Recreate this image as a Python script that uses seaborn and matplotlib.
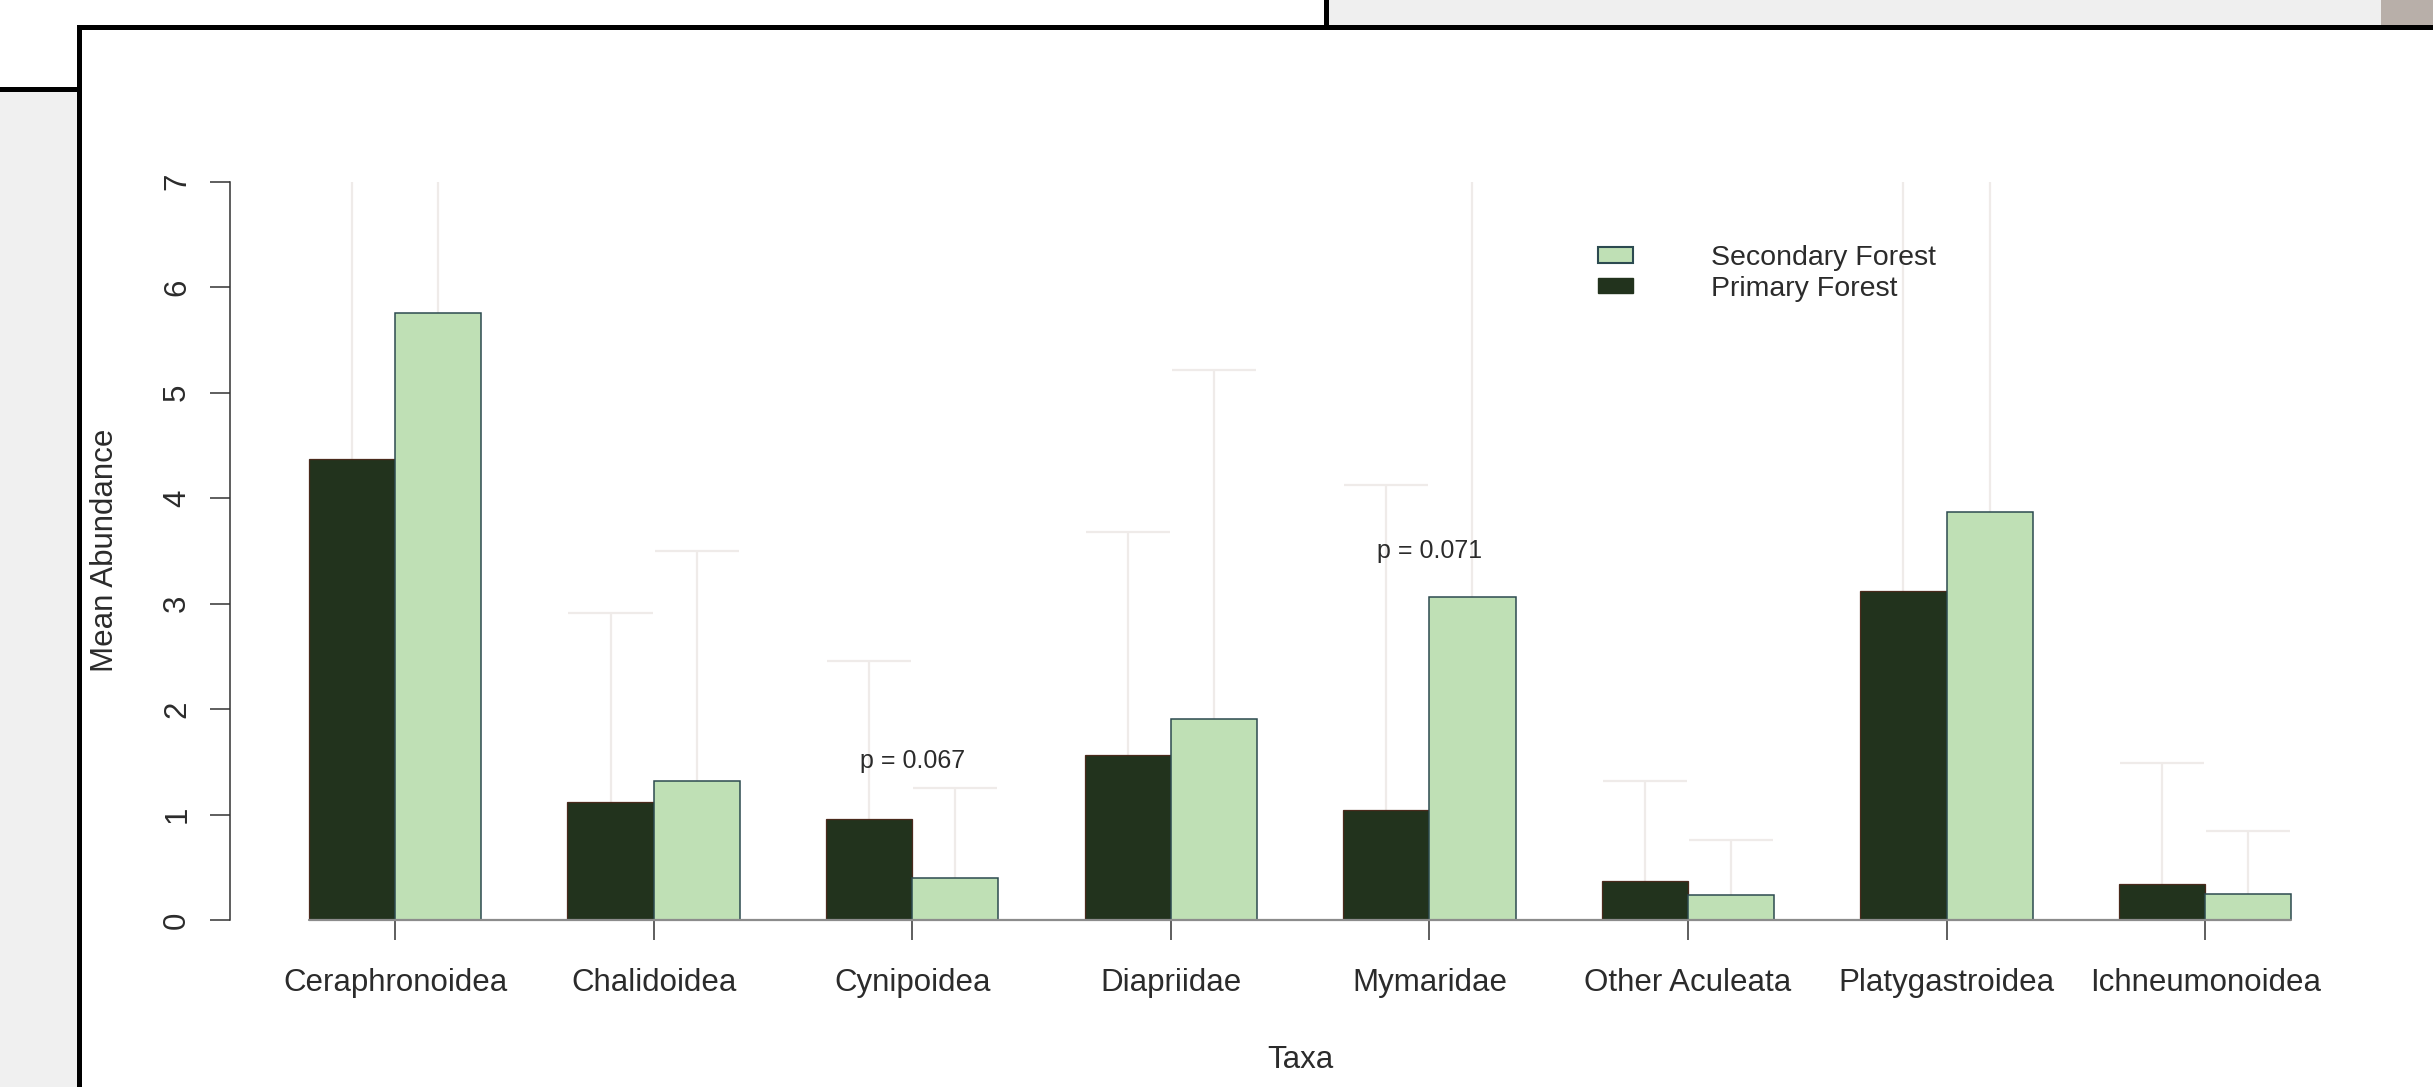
import numpy as np
import pandas as pd
import matplotlib
matplotlib.use("Agg")
import matplotlib.pyplot as plt
from matplotlib.patches import Patch, Rectangle
import seaborn as sns

taxa = ["Ceraphronoidea", "Chalidoidea", "Cynipoidea", "Diapriidae",
        "Mymaridae", "Other Aculeata", "Platygastroidea", "Ichneumonoidea"]
primary_mean = [4.37, 1.12, 0.96, 1.56, 1.04, 0.37, 3.12, 0.34]
secondary_mean = [5.75, 1.32, 0.40, 1.91, 3.06, 0.24, 3.87, 0.25]
# upper end of the error bars (mean + se), values above 7 are cut off in the plot
primary_upper = [7.6, 2.91, 2.46, 3.68, 4.12, 1.32, 7.5, 1.49]
secondary_upper = [8.3, 3.50, 1.25, 5.21, 7.8, 0.76, 7.9, 0.84]
p_labels = {2: ("p = 0.067", 1.51), 4: ("p = 0.071", 3.50)}

dark = "#22331d"
light = "#bfe0b5"
whisker_col = "#efebe9"
txt = "#2b2b2b"

sns.set_style("white")
plt.rcParams["font.family"] = ["Liberation Sans", "DejaVu Sans"]

W, H = 2433, 1087
fig = plt.figure(figsize=(W / 100, H / 100), dpi=100)

# screenshot frame around the plot
bg = fig.add_axes([0, 0, 1, 1], zorder=0)
bg.set_xlim(0, W)
bg.set_ylim(H, 0)
bg.axis("off")
bg.add_patch(Rectangle((0, 92), 77, H - 92, color="#f0f0f0", lw=0))
bg.add_patch(Rectangle((1329, 0), 1052, 25, color="#efefef", lw=0))
bg.add_patch(Rectangle((2381, 0), 52, 25, color="#b8afa9", lw=0))
bg.add_patch(Rectangle((0, 87), 80, 5, color="black", lw=0))
bg.add_patch(Rectangle((77, 25), 5, H - 25, color="black", lw=0))
bg.add_patch(Rectangle((77, 25), W - 77, 5, color="black", lw=0))
bg.add_patch(Rectangle((1324, 0), 5, 27, color="black", lw=0))

left, right = 229.5, 2370.7
top, bottom = 181.6, 920.0
ax = fig.add_axes([left / W, (H - bottom) / H, (right - left) / W, (bottom - top) / H], zorder=1)
ax.patch.set_alpha(0)

df = pd.DataFrame({
    "taxa": taxa * 2,
    "forest": ["Primary Forest"] * len(taxa) + ["Secondary Forest"] * len(taxa),
    "mean": primary_mean + secondary_mean,
})

x = np.arange(len(taxa))
off = 1 / 6
cap = 0.325
for xs, m, u in [(x - off, primary_mean, primary_upper), (x + off, secondary_mean, secondary_upper)]:
    ax.vlines(xs, m, u, color=whisker_col, lw=1.6, zorder=1)
    ax.hlines(u, xs - cap / 2, xs + cap / 2, color=whisker_col, lw=1.6, zorder=1)

sns.barplot(data=df, x="taxa", y="mean", hue="forest",
            hue_order=["Primary Forest", "Secondary Forest"],
            palette={"Primary Forest": dark, "Secondary Forest": light},
            width=2 / 3, errorbar=None, legend=False, ax=ax, zorder=2, saturation=1)

for bar in ax.containers[0]:
    bar.set_edgecolor("#4a2a1c")
    bar.set_linewidth(0.9)
for bar in ax.containers[1]:
    bar.set_edgecolor("#2c4a50")
    bar.set_linewidth(1.1)

ax.plot([-1 / 3, len(taxa) - 1 + 1 / 3], [0, 0], color="#8c8c8c", lw=1.6, clip_on=False, zorder=3)

for i, (lab, yv) in p_labels.items():
    ax.text(i, yv, lab, ha="center", va="center", fontsize=18, color=txt)

ax.set_xlim(-0.64, 7.64)
ax.set_ylim(0, 7)
ax.set_yticks(range(8))
ax.set_yticklabels([str(v) for v in range(8)], rotation=90, va="center")
ax.set_xticks(x)
ax.set_xticklabels(taxa)
for s in ["top", "right", "bottom"]:
    ax.spines[s].set_visible(False)
ax.spines["left"].set_color("#333333")
ax.spines["left"].set_linewidth(1.1)
ax.tick_params(axis="y", length=14.4, width=1.1, color="#333333", pad=12.5,
               labelsize=22.5, labelcolor=txt, left=True)
ax.tick_params(axis="x", length=14.4, width=1.1, color="#333333", pad=20.5,
               labelsize=22.5, labelcolor=txt, bottom=True)
ax.set_xlabel("Taxa", fontsize=22.5, color=txt, labelpad=33.5)
ax.set_ylabel("Mean Abundance", fontsize=22.5, color=txt, labelpad=30)

handles = [Patch(facecolor=light, edgecolor="#2c4a50", lw=1.5, label="Secondary Forest"),
           Patch(facecolor=dark, edgecolor=dark, lw=1.0, label="Primary Forest")]
ax.legend(handles=handles, loc="upper left", bbox_to_anchor=(1598 / W, 1 - 245 / H),
          bbox_transform=fig.transFigure, frameon=False, fontsize=20.5,
          handlelength=1.23, handleheight=0.46, handletextpad=2.75,
          labelspacing=0.16, borderpad=0, borderaxespad=0, labelcolor=txt)

fig.savefig("out.png", dpi=100)
